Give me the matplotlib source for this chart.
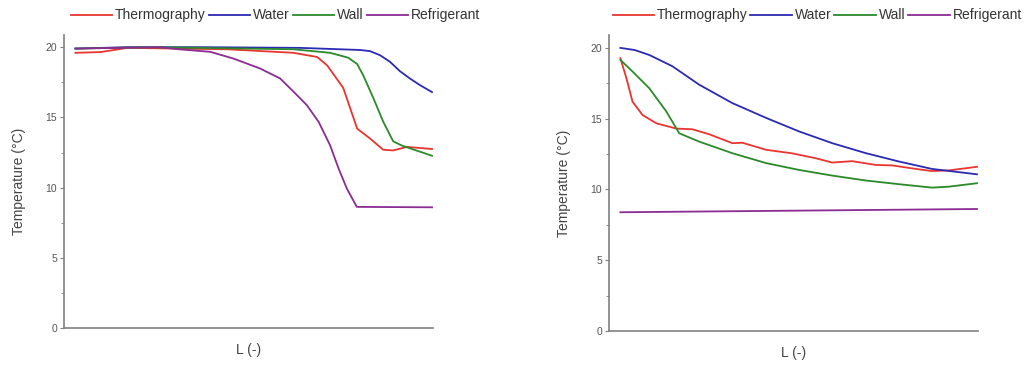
import matplotlib.pyplot as plt
from matplotlib.lines import Line2D

plt.rcParams["font.family"] = ["Liberation Sans", "DejaVu Sans"]

# left panel
l_water = [0.00, 0.146, 0.35, 0.63, 0.798, 0.826, 0.854, 0.882, 0.91, 0.938, 0.966, 1.0]
t_water = [19.9, 20.0, 20.0, 19.95, 19.8, 19.72, 19.43, 18.96, 18.29, 17.77, 17.3, 16.8]

l_thermo = [0.00, 0.07, 0.146, 0.426, 0.611, 0.678, 0.706, 0.751, 0.79, 0.826, 0.863, 0.891, 0.93, 1.0]
t_thermo = [19.6, 19.65, 19.95, 19.85, 19.6, 19.3, 18.7, 17.1, 14.2, 13.5, 12.7, 12.65, 12.9, 12.75]

l_wall = [0.00, 0.21, 0.611, 0.714, 0.765, 0.79, 0.807, 0.835, 0.863, 0.891, 0.915, 0.938, 1.0]
t_wall = [19.9, 20.0, 19.85, 19.6, 19.25, 18.8, 18.0, 16.4, 14.7, 13.3, 13.0, 12.8, 12.27]

l_ref = [0.00, 0.238, 0.285, 0.378, 0.443, 0.518, 0.574, 0.612, 0.649, 0.682, 0.714, 0.738,
         0.761, 0.789, 1.0]
t_ref = [19.9, 20.0, 19.86, 19.67, 19.19, 18.48, 17.77, 16.82, 15.87, 14.68, 13.02, 11.36,
         9.94, 8.63, 8.6]

# right panel
r_water = [0.00, 0.04, 0.081, 0.146, 0.221, 0.314, 0.409, 0.501, 0.594, 0.689, 0.782, 0.874, 1.0]
rt_water = [20.0, 19.85, 19.5, 18.7, 17.4, 16.1, 15.05, 14.1, 13.27, 12.56, 11.97, 11.45, 11.07]

r_thermo = [0.00, 0.017, 0.034, 0.062, 0.101, 0.157, 0.202, 0.249, 0.314, 0.342, 0.409, 0.482,
            0.549, 0.594, 0.65, 0.717, 0.762, 0.829, 0.874, 0.922, 1.0]
rt_thermo = [19.27, 17.85, 16.2, 15.26, 14.67, 14.3, 14.25, 13.9, 13.27, 13.3, 12.8, 12.55,
             12.2, 11.9, 12.0, 11.73, 11.7, 11.45, 11.3, 11.35, 11.6]

r_wall = [0.00, 0.034, 0.081, 0.129, 0.165, 0.221, 0.314, 0.409, 0.501, 0.594, 0.689, 0.782,
          0.874, 0.922, 1.0]
rt_wall = [19.15, 18.33, 17.15, 15.5, 13.97, 13.38, 12.56, 11.86, 11.38, 10.98, 10.63, 10.37,
           10.13, 10.2, 10.44]

r_ref = [0.00, 1.0]
rt_ref = [8.39, 8.62]

names = ["Thermography", "Water", "Wall", "Refrigerant"]
colors = ["#e8352f", "#2a2ab4", "#2a8a2a", "#8a2c92"]
grey = "#555555"

fig = plt.figure(figsize=(10.28, 3.67), dpi=100)
ax1 = fig.add_axes([0.0623, 0.106, 0.359, 0.798])
ax2 = fig.add_axes([0.5924, 0.098, 0.359, 0.807])

panels = [
    (ax1, [(l_thermo, t_thermo), (l_water, t_water), (l_wall, t_wall), (l_ref, t_ref)], 20.85),
    (ax2, [(r_thermo, rt_thermo), (r_water, rt_water), (r_wall, rt_wall), (r_ref, rt_ref)], 20.92),
]

for ax, series, top in panels:
    for (x, y), c in zip(series, colors):
        ax.plot(x, y, color=c, lw=1.3)
    ax.set_xlim(-0.032, 1.003)
    ax.set_ylim(0, top)
    ax.set_yticks([0, 5, 10, 15, 20])
    ax.set_yticks([2.5, 7.5, 12.5, 17.5], minor=True)
    ax.set_xticks([])
    for s in ["top", "right"]:
        ax.spines[s].set_visible(False)
    for s in ["left", "bottom"]:
        ax.spines[s].set_color("#808080")
        ax.spines[s].set_linewidth(1.2)
    ax.tick_params(axis="y", which="major", length=3, color="#808080",
                   labelsize=7.5, labelcolor=grey, pad=2)
    ax.tick_params(axis="y", which="minor", length=2, color="#808080")
    ax.set_ylabel("Temperature (°C)", fontsize=10, color="#444444", labelpad=14)
    ax.set_xlabel("L (-)", fontsize=10, color="#444444", labelpad=11)

handles = [Line2D([], [], color=c, lw=1.3) for c in colors]
for cx in [0.268, 0.795]:
    fig.legend(handles, names, loc="center", bbox_to_anchor=(cx, 0.958), ncol=4,
               frameon=False, fontsize=10, handlelength=3.0, handletextpad=0.2,
               columnspacing=0.2, labelcolor="#333333")

fig.savefig("out.png", dpi=100)
